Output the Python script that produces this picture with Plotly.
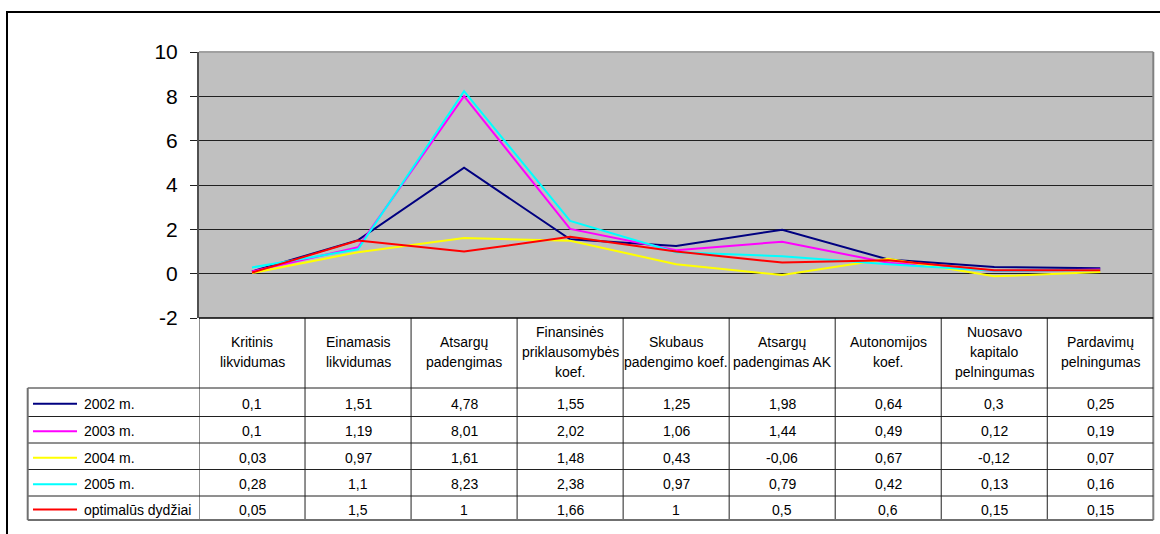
import plotly.graph_objects as go

# Financial ratio indicators (header text of the data table)
categories = [
    "Kritinis<br>likvidumas",
    "Einamasis<br>likvidumas",
    "Atsargų<br>padengimas",
    "Finansinės<br>priklausomybės<br>koef.",
    "Skubaus<br>padengimo koef.",
    "Atsargų<br>padengimas AK",
    "Autonomijos<br>koef.",
    "Nuosavo<br>kapitalo<br>pelningumas",
    "Pardavimų<br>pelningumas",
]

series_names = ["2002 m.", "2003 m.", "2004 m.", "2005 m.", "optimalūs dydžiai"]
values_2002 = [0.1, 1.51, 4.78, 1.55, 1.25, 1.98, 0.64, 0.3, 0.25]
values_2003 = [0.1, 1.19, 8.01, 2.02, 1.06, 1.44, 0.49, 0.12, 0.19]
values_2004 = [0.03, 0.97, 1.61, 1.48, 0.43, -0.06, 0.67, -0.12, 0.07]
values_2005 = [0.28, 1.1, 8.23, 2.38, 0.97, 0.79, 0.42, 0.13, 0.16]
values_optimal = [0.05, 1.5, 1, 1.66, 1, 0.5, 0.6, 0.15, 0.15]
series_colors = ["#000080", "#FF00FF", "#FFFF00", "#00FFFF", "#FF0000"]
y_ticks = [-2, 0, 2, 4, 6, 8, 10]

all_values = [values_2002, values_2003, values_2004, values_2005, values_optimal]

# ---- page geometry (pixels) ----
W, H = 1160, 534
PLOT_L, PLOT_R, PLOT_T, PLOT_B = 199, 1153.3, 52, 318
ROW_LINES = [388, 416.5, 443, 469.5, 496, 520]
LEGEND_L = 27.7
FONT = "Arial, Liberation Sans, sans-serif"
TABLE_FONT_SIZE = 14


def fx(p):
    return p / W


def fy(p):
    return 1 - p / H


def fmt(v):
    return f"{v:g}".replace(".", ",")


fig = go.Figure()

for name, vals, color in zip(series_names, all_values, series_colors):
    fig.add_trace(go.Scatter(
        x=categories, y=vals, name=name, mode="lines",
        line=dict(color=color, width=2),
        hoverinfo="skip", showlegend=False,
    ))

shapes = []
annotations = []

# outer chart frame (right and bottom edges run past the page)
shapes.append(dict(type="rect", xref="paper", yref="paper",
                   x0=fx(7), x1=fx(1175), y0=fy(12), y1=fy(560),
                   line=dict(color="black", width=2), layer="below"))

# plot-area border: top and right edges
shapes.append(dict(type="line", xref="paper", yref="paper",
                   x0=fx(PLOT_L), x1=fx(PLOT_R), y0=fy(PLOT_T), y1=fy(PLOT_T),
                   line=dict(color="#A0A0A0", width=2)))
shapes.append(dict(type="line", xref="paper", yref="paper",
                   x0=fx(PLOT_R), x1=fx(PLOT_R), y0=fy(PLOT_T), y1=fy(ROW_LINES[-1]),
                   line=dict(color="#808080", width=2)))

n = len(categories)
# table column boundaries (on the category axis scale)
for i in range(n):
    shapes.append(dict(type="line", xref="x", yref="paper",
                       x0=i - 0.5, x1=i - 0.5, y0=fy(PLOT_B), y1=fy(ROW_LINES[-1]),
                       line=dict(color="#202020", width=1)))
# table top line (x axis)
shapes.append(dict(type="line", xref="paper", yref="paper",
                   x0=fx(PLOT_L), x1=fx(PLOT_R), y0=fy(PLOT_B), y1=fy(PLOT_B),
                   line=dict(color="black", width=1.5)))
# row lines across legend column and data
for k, yl in enumerate(ROW_LINES):
    last = k == len(ROW_LINES) - 1
    shapes.append(dict(type="line", xref="paper", yref="paper",
                       x0=fx(LEGEND_L), x1=fx(PLOT_R), y0=fy(yl), y1=fy(yl),
                       line=dict(color="#707070" if last else "#202020", width=2 if last else 1)))
# legend column left edge
shapes.append(dict(type="line", xref="paper", yref="paper",
                   x0=fx(LEGEND_L), x1=fx(LEGEND_L), y0=fy(ROW_LINES[0]), y1=fy(ROW_LINES[-1]),
                   line=dict(color="#707070", width=2)))

# header text, one annotation per text line
HEADER_MID = 351.5
LINE_GAP = 20
for cat in categories:
    parts = cat.split("<br>")
    m = len(parts)
    for j, part in enumerate(parts):
        yc = HEADER_MID + (j - (m - 1) / 2) * LINE_GAP
        annotations.append(dict(x=cat, xref="x", y=fy(yc), yref="paper",
                                text=part, showarrow=False, xanchor="center", yanchor="middle",
                                font=dict(family=FONT, size=TABLE_FONT_SIZE, color="black")))

# data rows: legend key + values
for r, (name, vals, color) in enumerate(zip(series_names, all_values, series_colors)):
    yc = (ROW_LINES[r] + ROW_LINES[r + 1]) / 2 + 1.5
    shapes.append(dict(type="line", xref="paper", yref="paper",
                       x0=fx(33), x1=fx(77), y0=fy(yc), y1=fy(yc),
                       line=dict(color=color, width=2)))
    annotations.append(dict(x=fx(82), xref="paper", y=fy(yc), yref="paper",
                            text=name, showarrow=False, xanchor="left", yanchor="middle",
                            font=dict(family=FONT, size=TABLE_FONT_SIZE, color="black")))
    for cat, v in zip(categories, vals):
        annotations.append(dict(x=cat, xref="x", y=fy(yc), yref="paper",
                                text=fmt(v), showarrow=False, xanchor="center", yanchor="middle",
                                font=dict(family=FONT, size=TABLE_FONT_SIZE, color="black")))

fig.update_layout(
    width=W, height=H, autosize=False,
    margin=dict(l=0, r=0, t=0, b=0, pad=0, autoexpand=False),
    paper_bgcolor="white",
    plot_bgcolor="#C0C0C0",
    font=dict(family=FONT, color="black"),
    hovermode=False,
    xaxis=dict(
        domain=[fx(PLOT_L), fx(PLOT_R)],
        type="category",
        categoryorder="array", categoryarray=categories,
        range=[-0.5, n - 0.5],
        showticklabels=False, ticks="", showgrid=False, zeroline=False, showline=False,
        automargin=False, fixedrange=True,
    ),
    yaxis=dict(
        domain=[fy(PLOT_B), fy(PLOT_T)],
        range=[-2, 10],
        tickvals=y_ticks,
        ticktext=[str(t) for t in y_ticks],
        ticks="outside", ticklen=7, tickwidth=1, tickcolor="#202020",
        ticklabelstandoff=8,
        tickfont=dict(family=FONT, size=21, color="black"),
        showgrid=True, gridcolor="#202020", gridwidth=1,
        zeroline=False,
        showline=True, linecolor="#505050", linewidth=2,
        automargin=False, fixedrange=True,
    ),
    shapes=shapes,
    annotations=annotations,
)

fig.write_html("out.html", config={"displayModeBar": False, "staticPlot": True})
